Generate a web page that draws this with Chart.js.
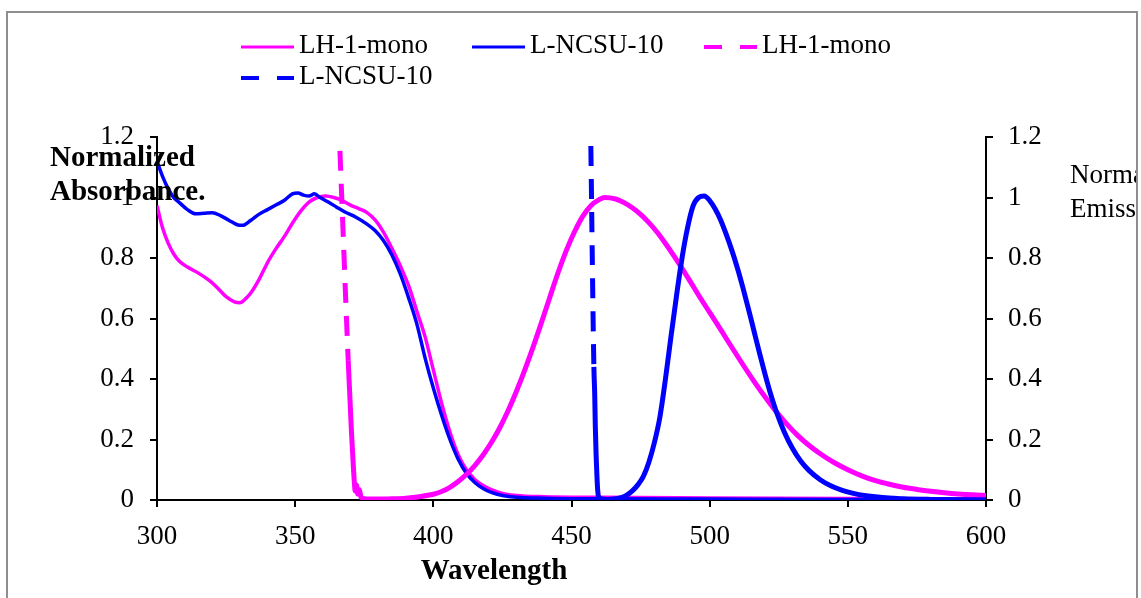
<!DOCTYPE html>
<html>
<head>
<meta charset="utf-8">
<script src="https://cdn.jsdelivr.net/npm/chart.js@4/dist/chart.umd.min.js"></script>
<style>
  body { margin: 0; background: #fff; }
  canvas { display: block; }
</style>
</head>
<body>
<canvas id="spectra" width="1141" height="598"></canvas>
<script>
// absorbance, LH-1-mono
const absLhWl = [300, 302, 304, 306, 308, 311, 315, 319, 322, 325, 328, 330, 332, 334, 337, 340, 343, 346, 349, 352, 355, 358, 361, 364, 367, 370, 373, 376, 379, 382, 385, 388, 391, 394, 397, 400, 403, 406, 409, 412, 415, 418, 421, 425, 430, 440, 460, 500, 550, 600];
const absLhVal = [0.973, 0.9, 0.85, 0.814, 0.79, 0.77, 0.75, 0.725, 0.7, 0.672, 0.655, 0.652, 0.665, 0.685, 0.73, 0.785, 0.83, 0.87, 0.915, 0.955, 0.985, 1.0, 1.005, 1.0, 0.99, 0.975, 0.963, 0.95, 0.925, 0.885, 0.832, 0.775, 0.71, 0.625, 0.54, 0.43, 0.32, 0.225, 0.15, 0.1, 0.068, 0.048, 0.034, 0.022, 0.015, 0.011, 0.009, 0.007, 0.005, 0.004];

// absorbance, L-NCSU-10
const absNcWl = [300, 302, 304, 306, 308, 311, 314, 317, 320, 323, 326, 329, 331, 334, 337, 340, 343, 346, 349, 351, 353, 355, 357, 359, 362, 365, 368, 372, 376, 379, 382, 385, 388, 391, 394, 397, 400, 403, 406, 409, 412, 415, 418, 421, 425, 430, 440, 460, 500, 550, 600];
const absNcVal = [1.12, 1.07, 1.03, 1.0, 0.984, 0.96, 0.946, 0.948, 0.95, 0.94, 0.925, 0.91, 0.908, 0.925, 0.945, 0.96, 0.975, 0.99, 1.012, 1.015, 1.008, 1.005, 1.012, 1.0, 0.985, 0.968, 0.952, 0.935, 0.912, 0.89, 0.857, 0.81, 0.748, 0.67, 0.583, 0.47, 0.37, 0.28, 0.2, 0.135, 0.088, 0.058, 0.038, 0.025, 0.015, 0.009, 0.006, 0.004, 0.003, 0.002, 0.002];

// emission, LH-1-mono
const emLhWl = [366.2, 369.2, 369.8, 370.4, 371.0, 371.4, 371.7, 372.2, 372.6, 373.2, 373.8, 375, 380, 385, 390, 395, 400, 403, 406, 409, 412, 415, 418, 421, 424, 427, 430, 433, 436, 439, 442, 445, 448, 451, 454, 457, 460, 462, 466, 469, 472, 475, 478, 481, 484, 487, 490, 493, 496, 500, 504, 508, 512, 516, 520, 524, 528, 532, 536, 540, 545, 550, 555, 560, 565, 570, 575, 580, 585, 590, 595, 600];
const emLhVal = [1.154, 0.46, 0.34, 0.22, 0.12, 0.06, 0.03, 0.05, 0.02, 0.035, 0.01, 0.004, 0.003, 0.004, 0.006, 0.011, 0.019, 0.028, 0.042, 0.061, 0.085, 0.114, 0.149, 0.19, 0.238, 0.294, 0.358, 0.428, 0.503, 0.583, 0.666, 0.748, 0.822, 0.885, 0.937, 0.973, 0.993, 1.0, 0.995, 0.983, 0.966, 0.944, 0.917, 0.885, 0.848, 0.808, 0.766, 0.722, 0.677, 0.62, 0.563, 0.505, 0.448, 0.393, 0.341, 0.293, 0.25, 0.212, 0.18, 0.153, 0.124, 0.1, 0.08, 0.064, 0.052, 0.042, 0.035, 0.029, 0.024, 0.02, 0.017, 0.015];

// emission, L-NCSU-10
const emNcWl = [457.0, 458.1, 458.4, 458.6, 458.9, 459.2, 459.5, 459.8, 460.5, 463, 466, 468, 470, 472, 474, 476, 478, 480, 482, 484, 486, 488, 490, 492, 494, 496, 498, 500, 502, 504, 506, 508, 510, 512, 514, 516, 518, 520, 522, 524, 527, 530, 533, 536, 540, 544, 548, 552, 556, 560, 565, 570, 580, 600];
const emNcVal = [1.17, 0.44, 0.35, 0.25, 0.15, 0.08, 0.03, 0.01, 0.004, 0.002, 0.004, 0.008, 0.016, 0.03, 0.05, 0.078, 0.125, 0.19, 0.275, 0.4, 0.54, 0.675, 0.8, 0.9, 0.972, 1.0, 1.005, 0.99, 0.962, 0.925, 0.878, 0.826, 0.768, 0.703, 0.633, 0.56, 0.487, 0.417, 0.352, 0.295, 0.225, 0.17, 0.128, 0.097, 0.067, 0.046, 0.032, 0.022, 0.015, 0.011, 0.007, 0.004, 0.002, 0.001];

const xTicks = [300, 350, 400, 450, 500, 550, 600];

const PINK = '#ff00ff';
const BLUE = '#0000ff';
const serif = '"Liberation Serif", "Times New Roman", serif';

function pairs(xs, ys) {
  return xs.map((x, i) => ({ x: x, y: ys[i] }));
}

// excel only shows the dashes where the emission jumps a long way between two points
const steepDash = ctx => Math.abs(ctx.p1.y - ctx.p0.y) > 60 ? [20, 13] : [];

const decorations = {
  id: 'decorations',
  beforeDraw(chart) {
    const c = chart.ctx;
    c.save();
    c.fillStyle = '#fff';
    c.fillRect(0, 0, chart.width, chart.height);
    c.strokeStyle = '#8e8e8e';
    c.lineWidth = 2;
    c.strokeRect(7, 12, 1130, 640);
    c.restore();
  },
  afterDraw(chart) {
    const c = chart.ctx;
    c.save();

    // legend
    const slots = [[241, 47], [472, 47], [704, 47], [241, 78]];
    chart.data.datasets.forEach((ds, i) => {
      const [x, y] = slots[i];
      c.beginPath();
      c.strokeStyle = ds.borderColor;
      c.lineWidth = ds.borderDash ? 4 : 3;
      c.setLineDash(ds.borderDash || []);
      c.moveTo(x, y);
      c.lineTo(x + 53, y);
      c.stroke();
      c.setLineDash([]);
      c.fillStyle = '#000';
      c.font = '27px ' + serif;
      c.textAlign = 'left';
      c.textBaseline = 'alphabetic';
      c.fillText(ds.label, x + 58, y + 6);
    });

    // axis titles
    c.fillStyle = '#000';
    c.font = 'bold 29px ' + serif;
    c.fillText('Normalized', 50, 166);
    c.fillText('Absorbance.', 50, 200);
    c.textAlign = 'center';
    c.fillText('Wavelength', 494, 579);

    c.beginPath();
    c.rect(0, 0, 1136, chart.height);
    c.clip();
    c.textAlign = 'left';
    c.font = '27px ' + serif;
    c.fillText('Normalized', 1070, 183);
    c.fillText('Emission', 1070, 217);
    c.restore();
  }
};

const axisLine = { color: '#000', width: 2 };
const tickMarks = { drawOnChartArea: false, drawTicks: true, tickLength: 7, color: '#000', lineWidth: 2 };
const tickFont = { family: serif, size: 27 };
const oneDecimal = v => String(Math.round(v * 10) / 10);

new Chart(document.getElementById('spectra'), {
  type: 'line',
  data: {
    datasets: [
      {
        label: 'LH-1-mono',
        data: pairs(absLhWl, absLhVal),
        borderColor: PINK,
        borderWidth: 3.5,
        yAxisID: 'y',
        order: 3
      },
      {
        label: 'L-NCSU-10',
        data: pairs(absNcWl, absNcVal),
        borderColor: BLUE,
        borderWidth: 3.5,
        yAxisID: 'y',
        order: 2
      },
      {
        label: 'LH-1-mono',
        data: pairs(emLhWl, emLhVal),
        borderColor: PINK,
        borderWidth: 5,
        borderDash: [18, 18],
        segment: { borderDash: steepDash },
        yAxisID: 'y2',
        order: 1
      },
      {
        label: 'L-NCSU-10',
        data: pairs(emNcWl, emNcVal),
        borderColor: BLUE,
        borderWidth: 5,
        borderDash: [18, 18],
        segment: { borderDash: steepDash },
        yAxisID: 'y2',
        order: 0
      }
    ]
  },
  options: {
    responsive: false,
    animation: false,
    layout: { padding: { top: 137, left: 0, right: 0, bottom: 0 } },
    elements: {
      point: { radius: 0, hoverRadius: 0 },
      line: { cubicInterpolationMode: 'monotone', fill: false }
    },
    plugins: {
      legend: { display: false },
      tooltip: { enabled: false }
    },
    scales: {
      x: {
        type: 'linear',
        min: 300,
        max: 600,
        afterBuildTicks: s => { s.ticks = xTicks.map(v => ({ value: v })); },
        afterFit: s => { s.height = 98; },
        grid: tickMarks,
        border: axisLine,
        ticks: { font: tickFont, color: '#000', padding: 14, maxRotation: 0 }
      },
      y: {
        position: 'left',
        min: 0,
        max: 1.2,
        afterFit: s => { s.width = 157; },
        grid: tickMarks,
        border: axisLine,
        ticks: { stepSize: 0.2, font: tickFont, color: '#000', padding: 16, callback: oneDecimal }
      },
      y2: {
        position: 'right',
        min: 0,
        max: 1.2,
        afterFit: s => { s.width = 155; },
        grid: tickMarks,
        border: axisLine,
        ticks: { stepSize: 0.2, font: tickFont, color: '#000', padding: 15, callback: oneDecimal }
      }
    }
  },
  plugins: [decorations]
});
</script>
</body>
</html>
